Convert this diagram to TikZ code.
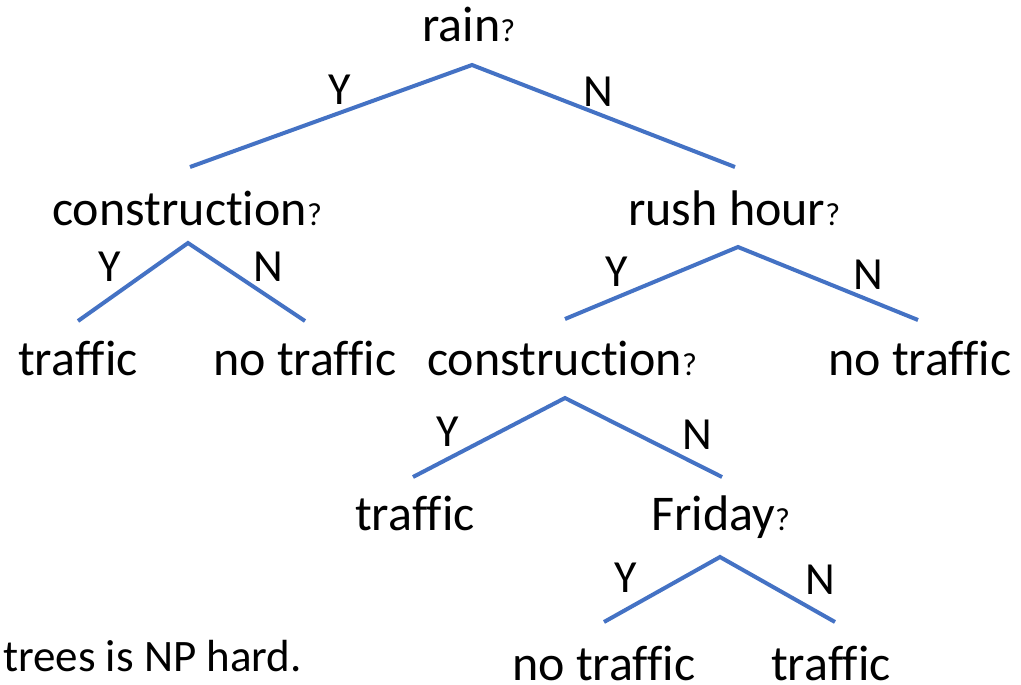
\documentclass[tikz,border=0pt]{standalone}
\usepackage{fontspec}
\setmainfont{Carlito}[Ligatures={NoCommon,NoContextual},RawFeature={-liga}]
\definecolor{branch}{RGB}{68,114,196}
\newcommand{\qm}{{\fontsize{32}{32}\selectfont ?}}
\begin{document}
\begin{tikzpicture}[x=1pt,y=-1pt,
  lbl/.style={anchor=base west,inner sep=0pt,font=\fontsize{50}{50}\selectfont},
  yn/.style={anchor=center,inner sep=0pt,font=\fontsize{46}{46}\selectfont},
  edge/.style={draw=branch,line width=4pt}]
\useasboundingbox (0,0) rectangle (1021,685);
% question and leaf labels
\node[lbl] (rain) at (422,42) {rain\qm};
\node[lbl] (c1) at (52,225) {construction\qm};
\node[lbl] (rh) at (628,225) {rush hour\qm};
\node[lbl] (t1) at (18,375) {traffic};
\node[lbl] (n1) at (213,375) {no traffic};
\node[lbl] (c2) at (427,375) {construction\qm};
\node[lbl] (n2) at (828,375) {no traffic};
\node[lbl] (t2) at (355,530) {traffic};
\node[lbl] (fr) at (651,530) {Friday\qm};
\node[lbl] (n3) at (512,680) {no traffic};
\node[lbl] (t3) at (771,680) {traffic};
\node[anchor=base west,inner sep=0pt,font=\fontsize{45}{45}\selectfont] (np) at (3,671) {trees is NP hard.};
% branch points
\coordinate (a1) at (472,65);  \coordinate (a1l) at (190,167); \coordinate (a1r) at (735,167);
\coordinate (a2) at (188,243); \coordinate (a2l) at (78,321);  \coordinate (a2r) at (305,321);
\coordinate (a3) at (738,247); \coordinate (a3l) at (565,319); \coordinate (a3r) at (918,320);
\coordinate (a4) at (565,398); \coordinate (a4l) at (413,477); \coordinate (a4r) at (722,477);
\coordinate (a5) at (720,557); \coordinate (a5l) at (604,622); \coordinate (a5r) at (835,622);
\foreach \k in {1,...,5}{\draw[edge] (a\k l) -- (a\k) -- (a\k r);}
% branch labels
\node[yn] (y1) at (340,90) {Y};  \node[yn] (m1) at (598,92) {N};
\node[yn] (y2) at (110,267) {Y}; \node[yn] (m2) at (268,267) {N};
\node[yn] (y3) at (617,272) {Y}; \node[yn] (m3) at (868,275) {N};
\node[yn] (y4) at (448,432) {Y}; \node[yn] (m4) at (697,435) {N};
\node[yn] (y5) at (626,578) {Y}; \node[yn] (m5) at (820,580) {N};
\end{tikzpicture}
\end{document}
